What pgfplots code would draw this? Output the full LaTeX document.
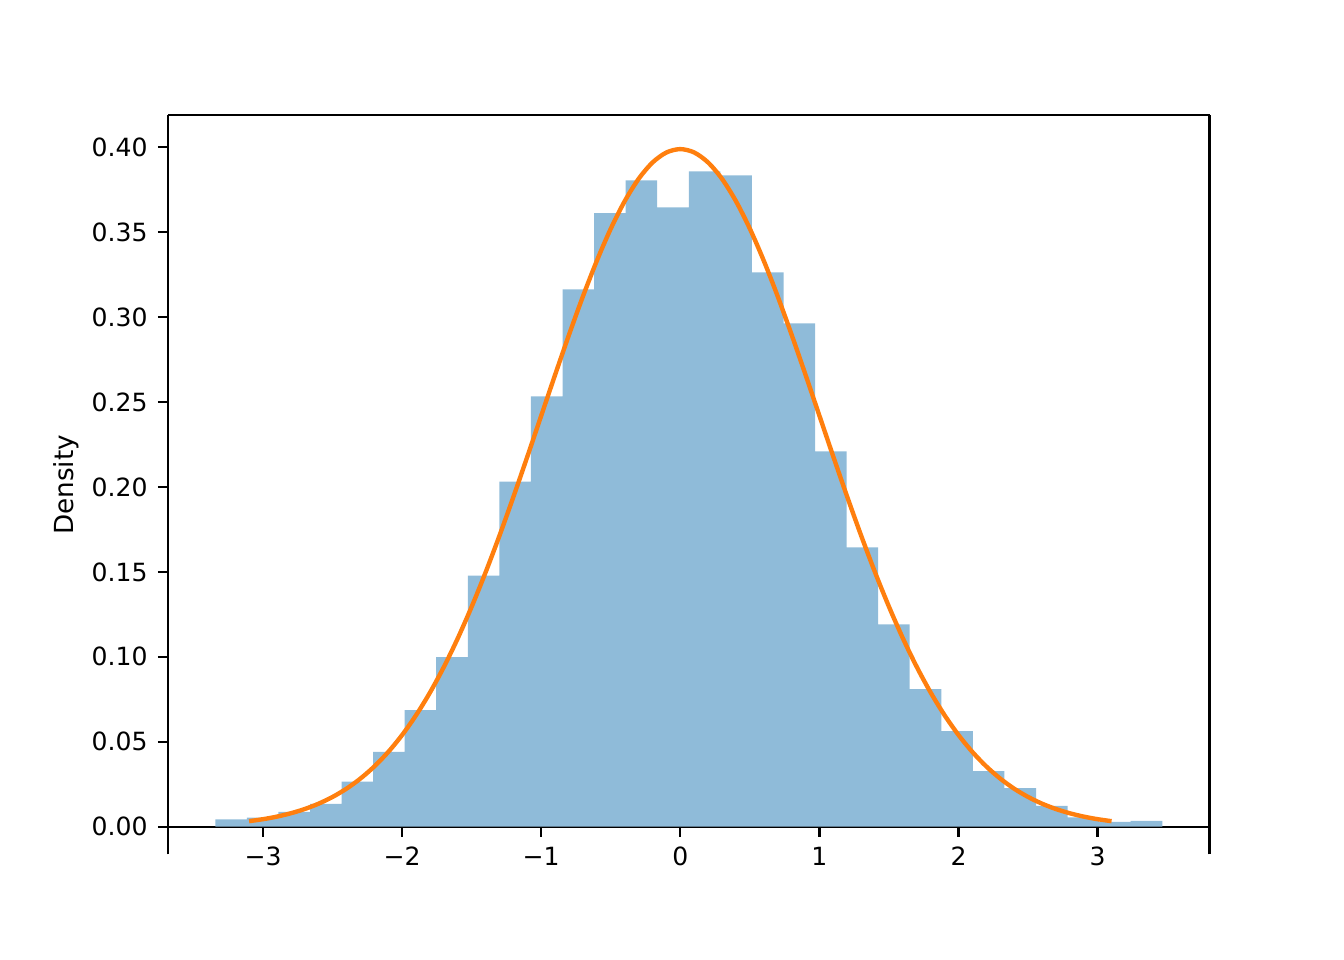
\documentclass[border=0pt]{standalone}
\usepackage{fontspec}
\setmainfont{DejaVu Sans}
\usepackage{pgfplots}
\pgfplotsset{compat=1.18}
\definecolor{histblue}{RGB}{143,187,217}
\definecolor{taborange}{HTML}{FF7F0E}
\begin{document}
\begin{tikzpicture}
\useasboundingbox (-57.6pt,-36.2pt) rectangle (403.2pt,292.94pt);
\begin{axis}[
  at={(0,0)}, anchor=south west,
  scale only axis,
  width=357.12pt, height=253.44pt,
  xmin=-3.683, xmax=3.805,
  ymin=-0.0163, ymax=0.4189,
  axis x line*=middle,
  axis y line*=box,
  hide obscured x ticks=false,
  axis line style={line width=0.8pt},
  every tick/.style={line width=0.8pt, black},
  major tick length=3.5pt,
  tick align=outside,
  ytick pos=left,
  tick label style={font=\fontsize{8.6}{10}\selectfont},
  xtick={-3,-2,-1,0,1,2,3},
  xticklabels={−3,−2,−1,0,1,2,3},
  ytick={0,0.05,0.10,0.15,0.20,0.25,0.30,0.35,0.40},
  yticklabels={0.00,0.05,0.10,0.15,0.20,0.25,0.30,0.35,0.40},
  ylabel={Density},
  every axis y label/.style={at={(rel axis cs:0,0.5)}, xshift=-35pt, anchor=center, rotate=90, font=\fontsize{9}{10}\selectfont},
  clip=false,
]
\addplot[ybar interval, fill=histblue, draw=none] coordinates {
(-3.343,0.0043) (-3.116,0.0053) (-2.889,0.0087) (-2.662,0.0134) (-2.435,0.0265)
(-2.209,0.0441) (-1.982,0.0686) (-1.755,0.0998) (-1.528,0.1478) (-1.301,0.2031)
(-1.074,0.2534) (-0.847,0.3163) (-0.620,0.3612) (-0.393,0.3806) (-0.166,0.3647)
(0.061,0.3859) (0.288,0.3835) (0.515,0.3263) (0.742,0.2963) (0.969,0.2210)
(1.195,0.1645) (1.422,0.1192) (1.649,0.0810) (1.876,0.0563) (2.103,0.0327)
(2.330,0.0227) (2.557,0.0122) (2.784,0.0055) (3.011,0.0028) (3.238,0.0034)
(3.465,0.0034)
};
\addplot[color=taborange, line width=1.5pt, mark=none, smooth] coordinates {
(-3.1,0.00327) (-3.0,0.00443) (-2.9,0.00595) (-2.8,0.00792) (-2.7,0.01042)
(-2.6,0.01358) (-2.5,0.01753) (-2.4,0.02239) (-2.3,0.02833) (-2.2,0.03547)
(-2.1,0.04398) (-2.0,0.05399) (-1.9,0.06562) (-1.8,0.07895) (-1.7,0.09405)
(-1.6,0.11092) (-1.5,0.12952) (-1.4,0.14973) (-1.3,0.17137) (-1.2,0.19419)
(-1.1,0.21785) (-1.0,0.24197) (-0.9,0.26609) (-0.8,0.28969) (-0.7,0.31225)
(-0.6,0.33322) (-0.5,0.35207) (-0.4,0.36827) (-0.3,0.38139) (-0.2,0.39104)
(-0.1,0.39695) (0.0,0.39894) (0.1,0.39695) (0.2,0.39104) (0.3,0.38139)
(0.4,0.36827) (0.5,0.35207) (0.6,0.33322) (0.7,0.31225) (0.8,0.28969)
(0.9,0.26609) (1.0,0.24197) (1.1,0.21785) (1.2,0.19419) (1.3,0.17137)
(1.4,0.14973) (1.5,0.12952) (1.6,0.11092) (1.7,0.09405) (1.8,0.07895)
(1.9,0.06562) (2.0,0.05399) (2.1,0.04398) (2.2,0.03547) (2.3,0.02833)
(2.4,0.02239) (2.5,0.01753) (2.6,0.01358) (2.7,0.01042) (2.8,0.00792)
(2.9,0.00595) (3.0,0.00443) (3.1,0.00327)
};
\draw[line width=0.8pt] (rel axis cs:0,1) -- (rel axis cs:1,1);
\end{axis}
\end{tikzpicture}
\end{document}
